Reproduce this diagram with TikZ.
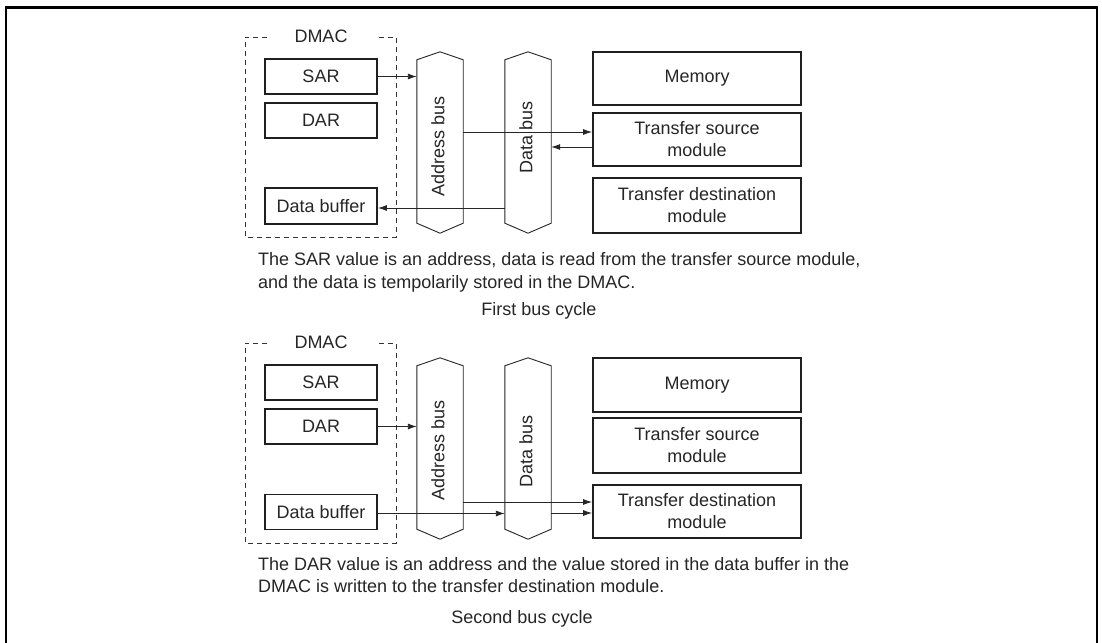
\documentclass[tikz,border=0pt]{standalone}
\usepackage{fontspec}
\setmainfont{Liberation Sans}
\usetikzlibrary{arrows.meta}
\begin{document}
\begin{tikzpicture}[x=1pt,y=-1pt,
  every node/.style={font=\fontsize{18}{22}\selectfont, text=black!85},
  box/.style={draw=black!88, line width=1.8pt, fill=white, inner sep=0pt, align=center},
  regbox/.style={box, minimum width=112pt, minimum height=35pt},
  modbox/.style={box, minimum width=208pt, minimum height=54pt},
  busarea/.style={draw=none, minimum width=46pt, minimum height=181pt, inner sep=0pt},
  busline/.style={draw=black!85, line width=0.9pt},
  dmacline/.style={draw=black!80, line width=0.9pt, dash pattern=on 5pt off 4pt},
  conn/.style={draw=black!85, line width=0.9pt, -{Latex[length=9pt,width=6pt]}},
  txt/.style={anchor=base west, inner sep=0pt},
  captxt/.style={anchor=base, inner sep=0pt}
]
\useasboundingbox (0,0) rectangle (1102,642);
\fill[white] (0,0) rectangle (1102,642);
% outer frame
\draw[line width=2.5pt, black] (6,650) -- (6,7.5) -- (1097,7.5) -- (1097,650);

% ================= First bus cycle =================
\draw[dmacline] (267,37) -- (245,37) -- (245,237) -- (396,237) -- (396,37) -- (378,37);
\node[inner sep=0pt] (dmac1) at (321,36) {DMAC};
\node[regbox] (sar1) at (321,76.5) {SAR};
\node[regbox] (dar1) at (321,120.5) {DAR};
\node[regbox, minimum height=36pt] (db1) at (321,206) {Data buffer};

\node[busarea] (abus1) at (440,142.5) {};
\node[busarea] (dbus1) at (528,142.5) {};
\foreach \b in {abus1,dbus1}{
  \draw[busline] ([yshift=-8pt]\b.north west) -- (\b.north) -- ([yshift=-8pt]\b.north east)
    -- ([yshift=10pt]\b.south east) -- (\b.south) -- ([yshift=10pt]\b.south west) -- cycle;
}
\node[rotate=90, inner sep=0pt] (abl1) at (438,146) {Address bus};
\node[rotate=90, inner sep=0pt] (dbl1) at (526,137) {Data bus};

\node[modbox, minimum height=53pt] (mem1) at (697,78.5) {Memory};
\node[modbox, minimum height=53pt] (src1) at (697,139.5) {Transfer source\\module};
\node[modbox, minimum height=55pt] (dst1) at (697,205.5) {Transfer destination\\module};

\draw[conn] (sar1.east) -- (sar1.east -| abus1.west);
\draw[conn] ([yshift=7.5pt]src1.west -| abus1.east) -- ([yshift=7.5pt]src1.west);
\draw[conn] ([yshift=-7.5pt]src1.west) -- ([yshift=-7.5pt]src1.west -| dbus1.east);
\draw[conn] ([yshift=-2pt]db1.east -| dbus1.west) -- ([yshift=-2pt]db1.east);

\node[txt] (t1a) at (258,265) {The SAR value is an address, data is read from the transfer source module,};
\node[txt] (t1b) at (258,288) {and the data is tempolarily stored in the DMAC.};
\node[captxt] (c1) at (539,315) {First bus cycle};

% ================= Second bus cycle =================
\draw[dmacline] (267,343) -- (245,343) -- (245,543) -- (396,543) -- (396,343) -- (378,343);
\node[inner sep=0pt] (dmac2) at (321,342) {DMAC};
\node[regbox] (sar2) at (321,382.5) {SAR};
\node[regbox] (dar2) at (321,426.5) {DAR};
\node[regbox] (db2) at (321,512) {Data buffer};

\node[busarea] (abus2) at (440,448.5) {};
\node[busarea] (dbus2) at (528,448.5) {};
\foreach \b in {abus2,dbus2}{
  \draw[busline] ([yshift=-8pt]\b.north west) -- (\b.north) -- ([yshift=-8pt]\b.north east)
    -- ([yshift=10pt]\b.south east) -- (\b.south) -- ([yshift=10pt]\b.south west) -- cycle;
}
\node[rotate=90, inner sep=0pt] (abl2) at (438,450) {Address bus};
\node[rotate=90, inner sep=0pt] (dbl2) at (526,451) {Data bus};

\node[modbox, minimum height=54pt] (mem2) at (697,385) {Memory};
\node[modbox, minimum height=55pt] (src2) at (697,445.5) {Transfer source\\module};
\node[modbox, minimum height=53pt] (dst2) at (697,511.5) {Transfer destination\\module};

\draw[conn] (dar2.east) -- (dar2.east -| abus2.west);
\draw[conn] ([yshift=9.5pt]dst2.west -| abus2.east) -- ([yshift=9.5pt]dst2.west);
\draw[conn] ([yshift=-1.5pt]db2.east) -- ([yshift=-1.5pt]db2.east -| dbus2.west);
\draw[conn] ([yshift=-1.5pt]dst2.west -| dbus2.east) -- ([yshift=-1.5pt]dst2.west);

\node[txt] (t2a) at (258,570) {The DAR value is an address and the value stored in the data buffer in the};
\node[txt] (t2b) at (258,592) {DMAC is written to the transfer destination module.};
\node[captxt] (c2) at (522,623) {Second bus cycle};
\end{tikzpicture}
\end{document}
